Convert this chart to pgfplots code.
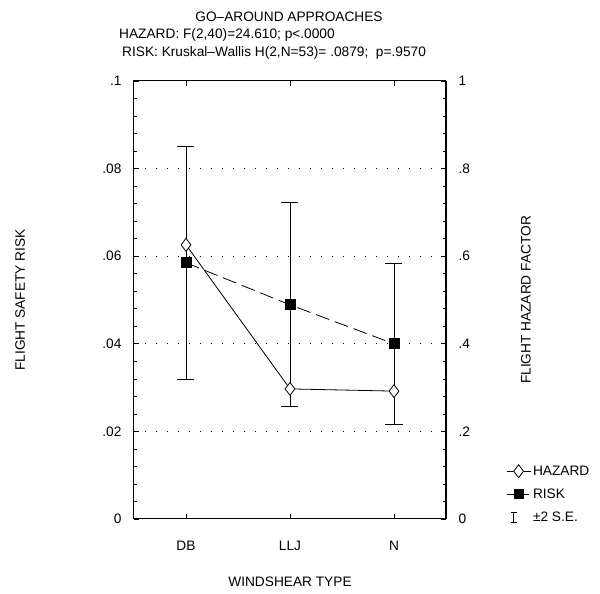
\documentclass[border=0pt]{standalone}
\usepackage{pgfplots}
\pgfplotsset{compat=1.18}
\usepackage{fontspec}
\setmainfont{Liberation Sans}
\pgfplotsset{
  longleg/.style={legend image code/.code={\draw[mark repeat=2,mark phase=2,##1] plot coordinates {(0pt,0pt) (12pt,0pt) (24pt,0pt)};}},
  seleg/.style={legend image code/.code={
    \draw[black, solid, line width=0.8pt] (7pt,-5pt) -- (7pt,5pt);
    \draw[black, solid, line width=0.8pt] (4pt,5pt) -- (10pt,5pt);
    \draw[black, solid, line width=0.8pt] (4pt,-5pt) -- (10pt,-5pt);
    \path[draw=none, fill=none] (0pt,0pt) rectangle (24pt,0.1pt);}},
}
\begin{document}
\begin{tikzpicture}
\useasboundingbox (-134pt,-75pt) rectangle (466pt,519pt);
\pgfplotsset{
  base/.style={
    scale only axis, width=312pt, height=438pt, at={(0,0)}, anchor=south west,
    xmin=-0.5, xmax=2.5,
    font=\fontsize{13.7}{16}\selectfont,
    /pgf/number format/assume math mode=true,
    tick align=inside, major tick length=5pt, minor tick length=3pt,
    axis line style={line width=1pt},
    every tick/.style={black, line width=0.8pt},
    every minor tick/.style={black, line width=0.6pt},
  }
}
\begin{axis}[base,
  ymin=0, ymax=0.1,
  ytick={0,0.02,0.04,0.06,0.08,0.1},
  yticklabels={0,.02,.04,.06,.08,.1},
  minor y tick num=4,
  ytick pos=left,
  xtick={0,1,2}, xticklabels={DB,LLJ,N}, xtick pos=both,
  ymajorgrids, major grid style={black, line width=1pt, dash pattern=on 1.3pt off 9.7pt},
  yticklabel style={xshift=-9pt},
  xticklabel style={yshift=-19pt},
  xlabel={WINDSHEAR TYPE},
  xlabel style={at={(axis description cs:0.5,-0.143)}, anchor=center},
  ylabel={FLIGHT SAFETY RISK},
  ylabel style={at={(axis description cs:-0.365,0.5)}, anchor=center},
]
\addplot[black, line width=0.8pt, dash pattern=on 14pt off 6pt, mark=square*, mark size=5pt, mark options={solid},
  error bars/.cd, y dir=both, y explicit, error mark=|,
  error bar style={solid, line width=0.8pt},
  error mark options={line width=0.8pt, mark size=8.5pt, solid, black}]
  coordinates {(0,0.0585) +- (0,0.0266) (1,0.0489) +- (0,0.0233) (2,0.0400) +- (0,0.0183)};
\end{axis}
\begin{axis}[base,
  ymin=0, ymax=1, axis y line*=right, axis x line=none,
  ytick={0,0.2,0.4,0.6,0.8,1}, yticklabels={0,.2,.4,.6,.8,1}, minor y tick num=4,
  yticklabel style={xshift=9pt},
  ylabel={FLIGHT HAZARD FACTOR},
  ylabel style={at={(axis description cs:1.256,0.5)}, anchor=center},
  legend style={at={(axis description cs:1,0)}, anchor=south west, xshift=57pt, yshift=-8pt,
    draw=none, fill=none, font=\fontsize{13.7}{16}\selectfont, row sep=8pt},
  legend cell align=left,
]
\addplot[black, line width=0.8pt, mark=diamond*, mark size=6.5pt, mark options={fill=white}, longleg]
  coordinates {(0,0.626) (1,0.297) (2,0.292)};
\addlegendentry{HAZARD}
\addlegendimage{black, line width=0.8pt, dash pattern=on 9pt off 4pt, mark=square*, mark size=4.5pt, mark options={solid}, longleg}
\addlegendentry{RISK}
\addlegendimage{draw=none, seleg}
\addlegendentry{±2 S.E.}
\end{axis}
\begin{scope}[every node/.style={inner sep=0pt, font=\fontsize{13.7}{16}\selectfont}]
\node[anchor=base] at (155pt,497pt) {GO--AROUND APPROACHES};
\node[anchor=base west] at (-15pt,480pt) {HAZARD: F(2,40)=24.610; p<.0000};
\node[anchor=base west] at (-12pt,462.5pt) {RISK: Kruskal--Wallis H(2,N=53)= .0879;\ \ p=.9570};
\end{scope}
\end{tikzpicture}
\end{document}
